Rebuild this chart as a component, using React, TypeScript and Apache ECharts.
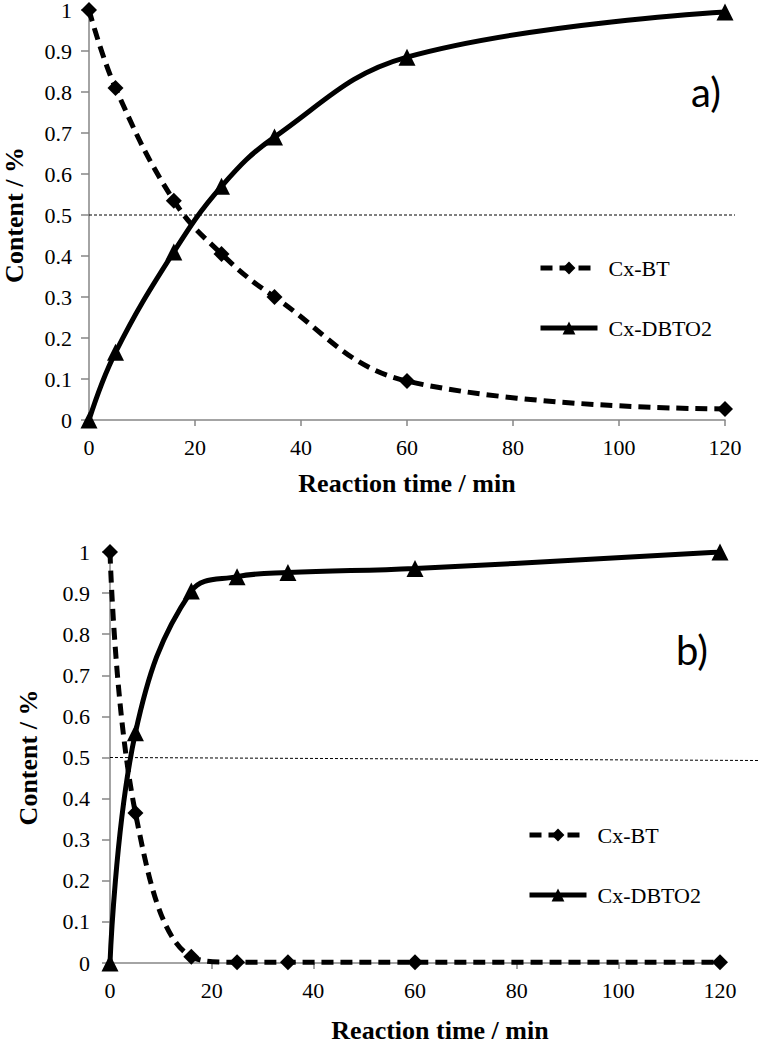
import React, { useEffect, useRef } from "react";
import * as echarts from "echarts";

// ---- data ----
const timeA = [0, 5, 16, 25, 35, 60, 120];
const btA = [1, 0.81, 0.535, 0.405, 0.3, 0.095, 0.027];
const dbtoA = [0, 0.165, 0.41, 0.57, 0.69, 0.885, 0.995];

const timeB = [0, 5, 16, 25, 35, 60, 120];
const btB = [1, 0.365, 0.015, 0.002, 0.002, 0.002, 0.002];
const dbtoB = [0, 0.56, 0.905, 0.94, 0.95, 0.96, 1.0];

const seriesNames = ["Cx-BT", "Cx-DBTO2"];
const panelLabels = ["a)", "b)"];
const xTitle = "Reaction time / min";
const yTitle = "Content / %";
const xRange = [0, 120, 20];
const yRange = [0, 1, 0.1];
const refLevel = 0.5;

const serif = "Liberation Serif";
const axisGray = { color: "#868686", width: 1.5 };

export default function App() {
  const ref = useRef<HTMLDivElement>(null);

  useEffect(() => {
    if (!ref.current) return;
    const chart = echarts.init(ref.current, undefined, { renderer: "svg" });

    const grids = [
      { left: 89, right: 33, top: 10, height: 410, containLabel: false, outerBoundsMode: "none" },
      { left: 110, right: 38, top: 552, height: 411, containLabel: false, outerBoundsMode: "none" },
    ];

    const xAxes = [0, 1].map((i) => ({
      type: "value",
      gridIndex: i,
      min: xRange[0],
      max: xRange[1],
      interval: xRange[2],
      axisLine: { show: true, onZero: false, lineStyle: axisGray },
      axisTick: { show: true, length: 6, lineStyle: axisGray },
      axisLabel: { fontFamily: serif, fontSize: 22, color: "#000", margin: 16 },
      splitLine: { show: false },
      name: xTitle,
      nameLocation: "middle",
      nameGap: i === 0 ? 50 : 54,
      nameTextStyle: {
        fontFamily: serif,
        fontSize: 26,
        fontWeight: "bold",
        color: "#000",
        padding: i === 0 ? [0, 0, 0, 0] : [0, 0, 0, 50],
      },
    }));

    const yAxes = [0, 1].map((i) => ({
      type: "value",
      gridIndex: i,
      min: yRange[0],
      max: yRange[1],
      interval: yRange[2],
      axisLine: { show: true, onZero: false, lineStyle: axisGray },
      axisTick: { show: true, length: 8, lineStyle: axisGray },
      axisLabel: { fontFamily: serif, fontSize: 22, color: "#000", margin: i === 0 ? 17 : 20 },
      splitLine: { show: false },
      name: yTitle,
      nameLocation: "middle",
      nameGap: i === 0 ? 62 : 69,
      nameTextStyle: { fontFamily: serif, fontSize: 26, fontWeight: "bold", color: "#000" },
    }));

    const mk = (name: string, t: number[], v: number[], idx: number, dashed: boolean) => ({
      type: "line",
      name,
      xAxisIndex: idx,
      yAxisIndex: idx,
      data: t.map((x, k) => [x, v[k]]),
      smooth: 0.4,
      symbol: dashed ? "diamond" : "triangle",
      symbolSize: dashed ? 16 : 17,
      showAllSymbol: true,
      lineStyle: { color: "#000", width: 5, type: dashed ? [12, 7] : "solid" },
      itemStyle: { color: "#000", borderWidth: 0 },
      z: dashed ? 3 : 2,
    });

    const legendBase = {
      data: seriesNames,
      orient: "vertical",
      itemWidth: 57,
      itemHeight: 16,
      itemGap: 38,
      lineStyle: { width: 5 },
      textStyle: { fontFamily: serif, fontSize: 22, color: "#000", padding: [0, 0, 0, 6] },
      selectedMode: false,
    };

    chart.setOption({
      animation: false,
      backgroundColor: "#fff",
      textStyle: { fontFamily: serif, color: "#000" },
      grid: grids,
      xAxis: xAxes,
      yAxis: yAxes,
      legend: [
        { ...legendBase, left: 533, top: 252 },
        { ...legendBase, left: 522, top: 819 },
      ],
      series: [
        mk(seriesNames[0], timeA, btA, 0, true),
        mk(seriesNames[1], timeA, dbtoA, 0, false),
        mk(seriesNames[0], timeB, btB, 1, true),
        mk(seriesNames[1], timeB, dbtoB, 1, false),
      ],
    });

    const pA = chart.convertToPixel({ gridIndex: 0 }, [0, refLevel]) as number[];
    const pB = chart.convertToPixel({ gridIndex: 1 }, [0, refLevel]) as number[];
    const refStyle = { stroke: "#000", lineWidth: 1, lineDash: [3, 2] };

    chart.setOption({
      graphic: [
        { type: "line", shape: { x1: pA[0], y1: pA[1], x2: 735, y2: pA[1] }, style: refStyle, z: 1 },
        { type: "line", shape: { x1: pB[0], y1: pB[1], x2: 758, y2: pB[1] + 3 }, style: refStyle, z: 1 },
        {
          type: "text",
          x: 691,
          y: 72,
          style: { text: panelLabels[0], font: "40px Lato, 'Open Sans', sans-serif", fill: "#000" },
        },
        {
          type: "text",
          x: 676,
          y: 630,
          style: { text: panelLabels[1], font: "40px Lato, 'Open Sans', sans-serif", fill: "#000" },
        },
      ],
    });

    return () => chart.dispose();
  }, []);

  return (
    <div
      ref={ref}
      style={{ position: "absolute", left: 0, top: 0, width: 758, height: 1049, background: "#fff" }}
    />
  );
}
